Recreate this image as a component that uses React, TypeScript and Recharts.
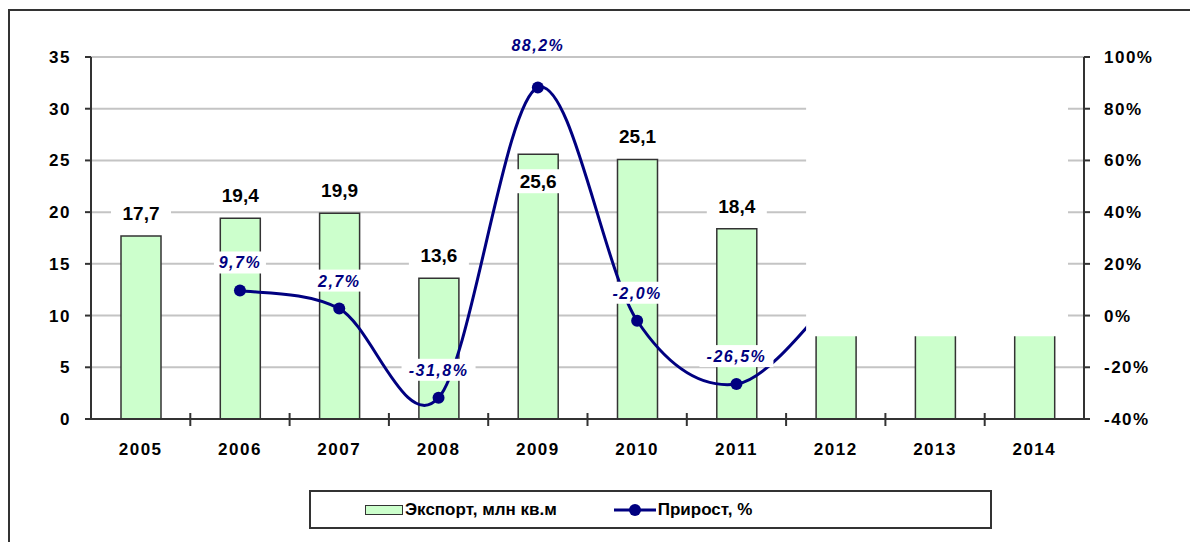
import React from 'react';
import {
  ComposedChart, Bar, Line, XAxis, YAxis, CartesianGrid, Legend, LabelList, ReferenceArea,
} from 'recharts';

const years = ['2005', '2006', '2007', '2008', '2009', '2010', '2011', '2012', '2013', '2014'];
const exportVolume = [17.7, 19.4, 19.9, 13.6, 25.6, 25.1, 18.4, 19.9, 21.0, 22.5];
const growth = [null, 9.7, 2.7, -31.8, 88.2, -2.0, -26.5, 8.0, null, null];
const leftTicks = [0, 5, 10, 15, 20, 25, 30, 35];
const rightTicks = [-40, -20, 0, 20, 40, 60, 80, 100];

const data = years.map((year, i) => ({ year, exp: exportVolume[i], growth: growth[i] }));

const FONT = '"Liberation Sans", Arial, sans-serif';
const NAVY = '#000080';
const comma = (v: number) => v.toFixed(1).replace('.', ',');

// Excel-like smoothing (Catmull-Rom through the points)
const excelSmooth = (context: any) => {
  let pts: number[][] = [];
  return {
    areaStart() {},
    areaEnd() {},
    lineStart() { pts = []; },
    point(x: number, y: number) { pts.push([x, y]); },
    lineEnd() {
      if (!pts.length) return;
      context.moveTo(pts[0][0], pts[0][1]);
      for (let i = 0; i < pts.length - 1; i++) {
        const p0 = pts[i - 1] || pts[i];
        const p1 = pts[i];
        const p2 = pts[i + 1];
        const p3 = pts[i + 2] || p2;
        context.bezierCurveTo(
          p1[0] + (p2[0] - p0[0]) / 6, p1[1] + (p2[1] - p0[1]) / 6,
          p2[0] - (p3[0] - p1[0]) / 6, p2[1] - (p3[1] - p1[1]) / 6,
          p2[0], p2[1],
        );
      }
    },
  };
};

const XTick = (props: any) => {
  const { x, y, payload, index } = props;
  const half = payload.offset ?? 0;
  return (
    <g>
      {index > 0 && (
        <line x1={x - half} x2={x - half} y1={y - 6} y2={y + 7} stroke="#333" strokeWidth={2} />
      )}
      <text x={x} y={y + 36} textAnchor="middle" fontFamily={FONT} fontWeight="bold"
        fontSize={17} letterSpacing={1.5} fill="#000">{payload.value}</text>
    </g>
  );
};

const BarLabel = (props: any) => {
  const { x, y, width, value, index } = props;
  const txt = comma(Number(value));
  const cx = x + width / 2;
  const cy = index === 4 ? y + 27 : y - 23;
  return (
    <g>
      <rect x={cx - 30} y={cy - 12} width={60} height={24} fill="#fff" />
      <text x={cx} y={cy + 7} textAnchor="middle" fontFamily={FONT} fontWeight="bold"
        fontSize={19} fill="#000">{txt}</text>
    </g>
  );
};

const LineLabel = (props: any) => {
  const { x, y, value, index } = props;
  if (value == null) return null;
  const txt = comma(Number(value)) + '%';
  const cy = index === 4 ? y - 43 : y - 28;
  const w = txt.length * 11 + 8;
  return (
    <g>
      <rect x={x - w / 2} y={cy - 11} width={w} height={22} fill="#fff" />
      <text x={x} y={cy + 6} textAnchor="middle" fontFamily={FONT} fontWeight="bold"
        fontStyle="italic" fontSize={16} letterSpacing={1.5} fill={NAVY}>{txt}</text>
    </g>
  );
};

const LegendBox = () => (
  <div style={{
    width: 679, height: 35, border: '2px solid #333', background: '#fff',
    display: 'flex', alignItems: 'center', fontFamily: FONT, fontWeight: 'bold',
    fontSize: 17, color: '#000', boxSizing: 'content-box',
  }}>
    <span style={{ width: 54 }} />
    <span style={{ width: 36, height: 8, background: '#ccffcc', border: '1px solid #333', marginRight: 2 }} />
    <span>Экспорт, млн кв.м</span>
    <span style={{ width: 57 }} />
    <svg width={42} height={14}>
      <line x1={0} x2={42} y1={7} y2={7} stroke={NAVY} strokeWidth={3} />
      <circle cx={21} cy={7} r={6} fill={NAVY} />
    </svg>
    <span style={{ marginLeft: 2 }}>Прирост, %</span>
  </div>
);

const App = () => (
  <div style={{ position: 'fixed', left: 0, top: 0, width: 1190, height: 542, overflow: 'hidden', background: '#fff' }}>
    <div style={{ position: 'absolute', left: 8, top: 9, width: 1220, height: 600, border: '2px solid #333' }} />
    <div style={{ position: 'absolute', left: 0, top: 0 }}>
      <ComposedChart width={1190} height={542} data={data}
        margin={{ top: 57, right: 16, bottom: 44, left: 31 }}>
        <CartesianGrid yAxisId="left" vertical={false} stroke="#c4c4c4" strokeWidth={2} />
        <XAxis dataKey="year" tick={<XTick />} tickLine={false} tickSize={0} tickMargin={0}
          height={40} axisLine={{ stroke: '#333', strokeWidth: 2 }} interval={0} />
        <YAxis yAxisId="left" domain={[0, 35]} ticks={leftTicks} width={60} tickSize={6} tickMargin={14}
          axisLine={{ stroke: '#333', strokeWidth: 2 }} tickLine={{ stroke: '#333', strokeWidth: 2 }}
          tick={{ fontFamily: FONT, fontWeight: 'bold', fontSize: 17, fill: '#000', letterSpacing: 1.5 }} />
        <YAxis yAxisId="right" orientation="right" domain={[-40, 100]} ticks={rightTicks} width={90}
          tickSize={6} tickMargin={14} tickFormatter={(v: number) => `${v}%`}
          axisLine={{ stroke: '#333', strokeWidth: 2 }} tickLine={{ stroke: '#333', strokeWidth: 2 }}
          tick={{ fontFamily: FONT, fontWeight: 'bold', fontSize: 17, fill: '#000', letterSpacing: 1.5, textAnchor: 'start' }} />
        <Legend content={<LegendBox />}
          wrapperStyle={{ position: 'absolute', left: 309, top: 490, width: 683, height: 39, bottom: 'auto' }} />
        <Bar yAxisId="left" dataKey="exp" barSize={40} fill="#ccffcc" stroke="#333" strokeWidth={1.5}
          isAnimationActive={false}>
          <LabelList dataKey="exp" content={<BarLabel />} />
        </Bar>
        <Line yAxisId="right" dataKey="growth" type={excelSmooth as any} stroke={NAVY} strokeWidth={3}
          dot={{ r: 6, fill: NAVY, stroke: 'none' }} isAnimationActive={false}>
          <LabelList dataKey="growth" content={<LineLabel />} />
        </Line>
        <ReferenceArea yAxisId="left" x1="2012" x2="2014" y1={8} y2={34.6} zIndex={2500}
          ifOverflow="visible"
          shape={(p: any) => <rect x={p.x + 20} y={p.y} width={p.width - 36} height={p.height} fill="#fff" />} />
      </ComposedChart>
    </div>
  </div>
);

export default App;
